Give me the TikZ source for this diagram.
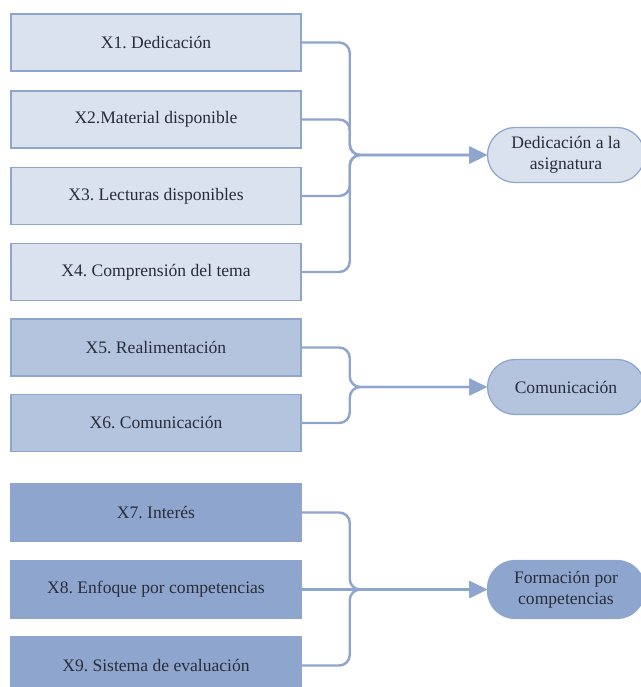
\documentclass[tikz,border=0pt]{standalone}
\usepackage{fontspec}
\setmainfont{Liberation Serif}
\usetikzlibrary{arrows.meta,positioning}
\definecolor{linkblue}{HTML}{8EA6CD}
\definecolor{paleblue}{HTML}{DAE2EE}
\definecolor{midblue}{HTML}{B4C4DE}
\definecolor{inktext}{HTML}{2A2C3A}
\frenchspacing

\begin{document}
\begin{tikzpicture}[
  x=0.02cm, y=-0.02cm,
  font=\fontsize{10}{12}\selectfont,
  every node/.style={align=center, text=inktext},
  itembox/.style={rectangle, draw=linkblue, line width=0.9pt,
                  minimum width=5.8cm, minimum height=1.14cm, inner sep=2pt},
  goalbox/.style={rectangle, rounded corners=0.55cm, draw=linkblue, line width=0.7pt,
                  minimum width=3.14cm, minimum height=1.1cm, inner sep=2pt},
  link/.style={draw=linkblue, line width=1.4pt, rounded corners=6,
               -{Triangle[length=10pt, width=9.5pt]}}
]
\useasboundingbox (0,0) rectangle (641,687);

% Factors
\node[itembox, fill=paleblue] (x1) at (156, 42.5) {X1. Dedicación};
\node[itembox, fill=paleblue] (x2) at (156,119.5) {X2.Material disponible};
\node[itembox, fill=paleblue] (x3) at (156,196)   {X3. Lecturas disponibles};
\node[itembox, fill=paleblue] (x4) at (156,272)   {X4. Comprensión del tema};

\node[itembox, fill=midblue] (x5) at (156,347.5) {X5. Realimentación};
\node[itembox, fill=midblue] (x6) at (156,423)   {X6. Comunicación};

\node[itembox, fill=linkblue] (x7) at (156,512.5) {X7. Interés};
\node[itembox, fill=linkblue] (x8) at (156,589.5) {X8. Enfoque por competencias};
\node[itembox, fill=linkblue] (x9) at (156,665.5) {X9. Sistema de evaluación};

% Dimensions
\node[goalbox, fill=paleblue] (dedic)  at (566,155) {Dedicación a la\\asignatura};
\node[goalbox, fill=midblue]  (comun)  at (566,387) {Comunicación};
\node[goalbox, fill=linkblue, minimum height=1.16cm] (formac) at (566,589.5) {Formación por\\competencias};

% Links
\foreach \f in {x1,x2,x3,x4}
  \draw[link] (\f.east) -- ++(48,0) |- (dedic.west);
\foreach \f in {x5,x6}
  \draw[link] (\f.east) -- ++(48,0) |- (comun.west);
\foreach \f in {x7,x9}
  \draw[link] (\f.east) -- ++(48,0) |- (formac.west);
\draw[link] (x8.east) -- (formac.west);

\end{tikzpicture}
\end{document}
